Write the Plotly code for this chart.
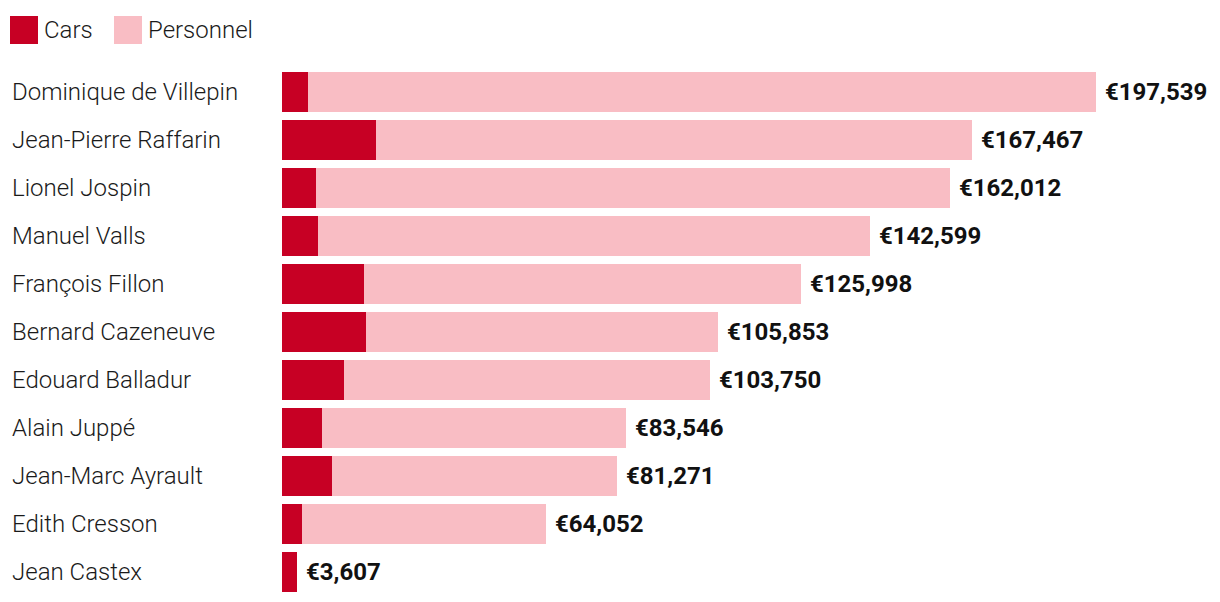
import plotly.graph_objects as go

names = ["Dominique de Villepin", "Jean-Pierre Raffarin", "Lionel Jospin", "Manuel Valls",
         "François Fillon", "Bernard Cazeneuve", "Edouard Balladur", "Alain Juppé",
         "Jean-Marc Ayrault", "Edith Cresson", "Jean Castex"]
totals = [197539, 167467, 162012, 142599, 125998, 105853, 103750, 83546, 81271, 64052, 3607]
cars = [6300, 22800, 8250, 8750, 19900, 20400, 15050, 9700, 12150, 4850, 3607]
personnel = [t - c for t, c in zip(totals, cars)]
labels = ["€{:,}".format(t) for t in totals]

CARS_C = "#c70024"
PERS_C = "#f9bdc4"
OFF = 8  # page body margin
W, H = 1220 - OFF, 602 - OFF
L, R, T, B = 282 - OFF, 0, 68 - OFF, 6
pw = W - L - R
ph = H - T - B
xmax = max(totals) * pw / 814.0

fig = go.Figure()
fig.add_trace(go.Bar(y=names, x=cars, orientation="h", name="Cars",
                     marker=dict(color=CARS_C, line=dict(width=0)), showlegend=False,
                     hoverinfo="x+name"))
fig.add_trace(go.Bar(y=names, x=personnel, orientation="h", name="Personnel",
                     marker=dict(color=PERS_C, line=dict(width=0)), showlegend=False,
                     hoverinfo="x+name"))

def px_x(x):
    return (x - OFF - L) / pw
def px_y(y):
    return 1 - (y - OFF - T) / ph

LABEL_FONT = dict(family="Roboto", size=24, color="#1a1a1a", weight=300)
anns = []
for n, t, lab in zip(names, totals, labels):
    anns.append(dict(x=t, y=n, xref="x", yref="y", text="<b>" + lab + "</b>",
                     showarrow=False, xanchor="left", yanchor="middle", xshift=7,
                     font=dict(family="Roboto", size=24, color="#111111")))
    anns.append(dict(x=px_x(12), y=n, xref="paper", yref="y", text=n,
                     showarrow=False, xanchor="left", yanchor="middle",
                     xshift=-2, font=LABEL_FONT))

shapes = []
for x0, col in [(10, CARS_C), (114, PERS_C)]:
    shapes.append(dict(type="rect", xref="paper", yref="paper",
                       x0=px_x(x0), x1=px_x(x0 + 28), y0=px_y(44), y1=px_y(16),
                       fillcolor=col, line=dict(width=0)))
for x0, txt in [(44, "Cars"), (148, "Personnel")]:
    anns.append(dict(x=px_x(x0), y=px_y(30), xref="paper", yref="paper", text=txt,
                     showarrow=False, xanchor="left", yanchor="middle",
                     xshift=-2, font=LABEL_FONT))

fig.update_layout(
    barmode="stack", bargap=8 / 48,
    width=W, height=H,
    margin=dict(l=L, r=R, t=T, b=B, pad=0),
    paper_bgcolor="white", plot_bgcolor="white",
    xaxis=dict(range=[0, xmax], visible=False, fixedrange=True),
    yaxis=dict(autorange="reversed", showticklabels=False, showgrid=False,
               zeroline=False, showline=False, ticks="", fixedrange=True),
    annotations=anns, shapes=shapes, showlegend=False,
)
fig.write_html("out.html")
